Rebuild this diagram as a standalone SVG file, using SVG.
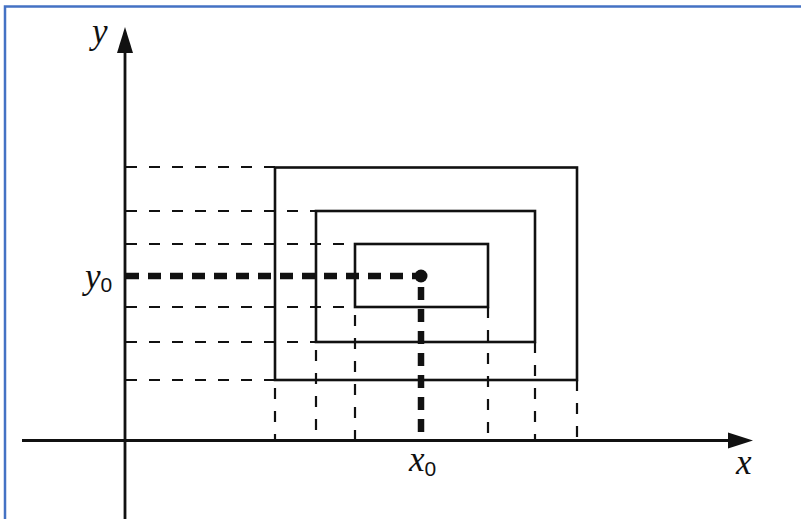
<svg xmlns="http://www.w3.org/2000/svg" width="801" height="519" viewBox="0 0 801 519">
  <style>
    .frame { fill: none; stroke: #4472C4; stroke-width: 2.5; }
    .axis { stroke: #111; stroke-width: 2.8; fill: none; }
    .rect { fill: none; stroke: #111; stroke-width: 2.6; }
    .dash { stroke: #111; stroke-width: 2.2; stroke-dasharray: 11 12; fill: none; }
    .thick { stroke: #111; stroke-width: 6.5; stroke-dasharray: 13 9; fill: none; }
    .var { font-family: "Liberation Serif", "Times New Roman", serif; font-style: italic; font-size: 35px; fill: #111; }
    .sub { font-family: "Liberation Sans", Arial, sans-serif; font-size: 21px; fill: #111; }
  </style>
  <rect width="801" height="519" fill="#ffffff"/>
  <path class="frame" d="M5,525 V6.5 H805"/>

  <g id="connectors">
    <!-- horizontal dashed projections -->
    <line class="dash" x1="126" y1="167" x2="275" y2="167"/>
    <line class="dash" x1="126" y1="211" x2="316" y2="211"/>
    <line class="dash" x1="126" y1="244" x2="355" y2="244"/>
    <line class="dash" x1="126" y1="307" x2="355" y2="307"/>
    <line class="dash" x1="126" y1="342" x2="316" y2="342"/>
    <line class="dash" x1="126" y1="380" x2="275" y2="380"/>
    <line class="thick" x1="126" y1="276" x2="421" y2="276"/>
    <!-- vertical dashed projections -->
    <line class="dash" x1="275" y1="388" x2="275" y2="440"/>
    <line class="dash" x1="316" y1="350" x2="316" y2="440"/>
    <line class="dash" x1="355" y1="315" x2="355" y2="440"/>
    <line class="dash" x1="488" y1="307" x2="488" y2="440"/>
    <line class="dash" x1="535" y1="342" x2="535" y2="440"/>
    <line class="dash" x1="577" y1="380" x2="577" y2="440"/>
    <line class="thick" x1="421" y1="287" x2="421" y2="440"/>
  </g>

  <g id="axes">
    <line class="axis" x1="22" y1="440.5" x2="730" y2="440.5"/>
    <polygon points="753,440.5 728,432.5 728,448.5" fill="#111"/>
    <line class="axis" x1="125" y1="519" x2="125" y2="50"/>
    <polygon points="125,27 117,53 133,53" fill="#111"/>
  </g>

  <g id="rect-outer"><rect class="rect" x="275" y="167.5" width="302" height="212.5"/></g>
  <g id="rect-middle"><rect class="rect" x="316" y="211" width="219" height="131"/></g>
  <g id="rect-inner"><rect class="rect" x="355" y="244" width="133" height="63"/></g>
  <g id="point"><circle cx="421" cy="276" r="6.5" fill="#111"/></g>

  <g id="labels">
    <text class="var" x="92" y="43">y</text>
    <text class="var" x="736" y="474">x</text>
    <text x="85" y="288"><tspan class="var">y</tspan><tspan class="sub" dy="4">0</tspan></text>
    <text x="409" y="471"><tspan class="var">x</tspan><tspan class="sub" dy="5">0</tspan></text>
  </g>
</svg>
